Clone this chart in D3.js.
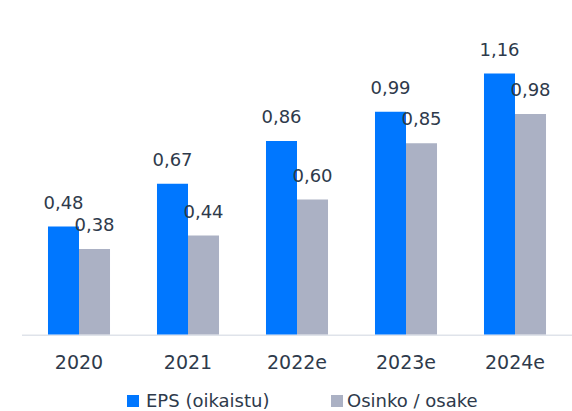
<!DOCTYPE html>
<html>
<head>
<meta charset="utf-8">
<script src="https://cdn.jsdelivr.net/npm/d3@7"></script>
<style>
  html, body { margin: 0; padding: 0; background: #ffffff; }
  svg { display: block; }
  text { font-family: "DejaVu Sans", sans-serif; fill: #2e3a4b; }
</style>
</head>
<body>
<svg id="chart" width="572" height="411"></svg>
<script>
// Per-share figures by year
const years = ["2020", "2021", "2022e", "2023e", "2024e"];
const eps = [0.48, 0.67, 0.86, 0.99, 1.16];
const dividend = [0.38, 0.44, 0.60, 0.85, 0.98];
const seriesNames = ["EPS (oikaistu)", "Osinko / osake"];
const seriesColors = ["#0077ff", "#abb1c4"];

const W = 572, H = 411;
const baseY = 334.5;

const svg = d3.select("#chart");

const x0 = d3.scaleBand()
  .domain(years)
  .range([24.5, 569.5])
  .paddingInner(0.431)
  .paddingOuter(0.2155);

const x1 = d3.scaleBand()
  .domain([0, 1])
  .range([0, x0.bandwidth()]);

const y = d3.scaleLinear()
  .domain([0, 1.2])
  .range([baseY, baseY - 270]);

const rows = years.map((yr, i) => ({ year: yr, values: [eps[i], dividend[i]] }));

const fmt = v => d3.format(".2f")(v).replace(".", ",");

// Baseline
svg.append("line")
  .attr("x1", 22).attr("x2", W)
  .attr("y1", baseY + 0.75).attr("y2", baseY + 0.75)
  .attr("stroke", "#dfe3ea")
  .attr("stroke-width", 1.5);

const groups = svg.selectAll("g.year")
  .data(rows)
  .join("g")
  .attr("class", "year")
  .attr("transform", d => `translate(${x0(d.year)},0)`);

groups.selectAll("rect")
  .data(d => d.values.map((v, k) => ({ v, k })))
  .join("rect")
  .attr("x", d => x1(d.k))
  .attr("width", x1.bandwidth())
  .attr("y", d => y(d.v))
  .attr("height", d => baseY - y(d.v))
  .attr("fill", d => seriesColors[d.k]);

groups.selectAll("text.val")
  .data(d => d.values.map((v, k) => ({ v, k })))
  .join("text")
  .attr("class", "val")
  .attr("x", d => x1(d.k) + x1.bandwidth() / 2)
  .attr("y", d => y(d.v) - 18)
  .attr("text-anchor", "middle")
  .attr("font-size", 18)
  .text(d => fmt(d.v));

// Category axis labels
const xAxis = d3.axisBottom(x0).tickSize(0).tickPadding(0);
const axisG = svg.append("g")
  .attr("transform", `translate(0,${baseY})`)
  .call(xAxis);
axisG.select(".domain").remove();
axisG.selectAll("text")
  .attr("y", 34)
  .attr("dy", null)
  .attr("font-size", 19)
  .attr("font-family", "DejaVu Sans, sans-serif")
  .attr("fill", "#2e3a4b");

// Legend
const legendX = [127, 331];
const legend = svg.selectAll("g.legend")
  .data(seriesNames)
  .join("g")
  .attr("class", "legend")
  .attr("transform", (d, i) => `translate(${legendX[i]},395)`);
legend.append("rect")
  .attr("width", 12).attr("height", 12)
  .attr("fill", (d, i) => seriesColors[i]);
legend.append("text")
  .attr("x", (d, i) => i === 0 ? 19 : 16)
  .attr("y", 12)
  .attr("font-size", 18)
  .text(d => d);
</script>
</body>
</html>
